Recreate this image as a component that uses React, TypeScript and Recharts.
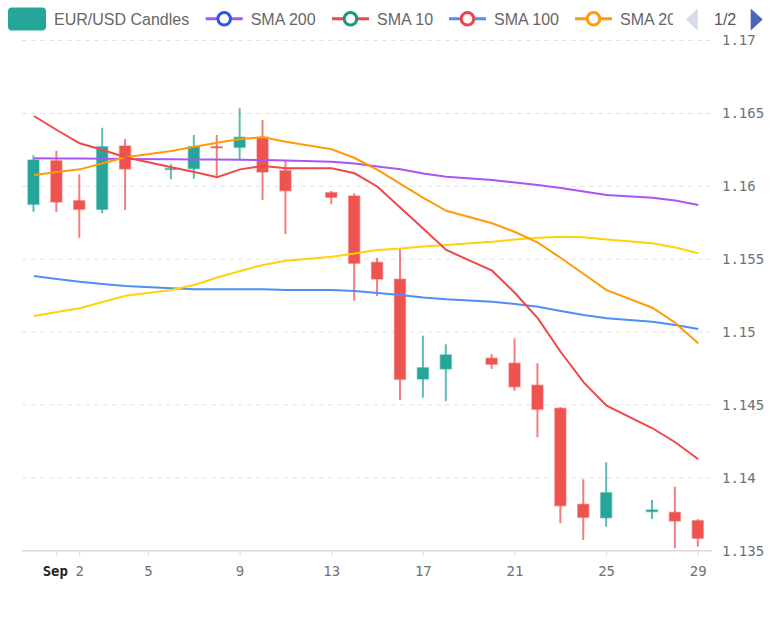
import React from 'react';
import { ComposedChart, Bar, Line, XAxis, YAxis, CartesianGrid } from 'recharts';

// Day index: 0 = Aug 31, 1 = Sep 1, ... 29 = Sep 29
const days = [0, 1, 2, 3, 4, 6, 7, 8, 9, 10, 11, 13, 14, 15, 16, 17, 18, 20, 21, 22, 23, 24, 25, 27, 28, 29];
const opens = [1.15876, 1.16175, 1.15901, 1.15842, 1.16276, 1.16118, 1.16121, 1.16271, 1.16267, 1.16336, 1.16107, 1.15956, 1.15933, 1.15478, 1.15362, 1.14678, 1.14747, 1.1482, 1.14786, 1.14635, 1.14477, 1.13818, 1.13726, 1.13768, 1.13763, 1.13706];
const highs = [1.16213, 1.16244, 1.16082, 1.16402, 1.16324, 1.16151, 1.16352, 1.16352, 1.16535, 1.16455, 1.16173, 1.15968, 1.15952, 1.1551, 1.15568, 1.14975, 1.14916, 1.14849, 1.14957, 1.14786, 1.14484, 1.1399, 1.14106, 1.13848, 1.13939, 1.13715];
const lows = [1.15826, 1.15824, 1.15647, 1.15815, 1.15837, 1.16048, 1.16052, 1.16062, 1.16187, 1.15906, 1.15673, 1.15876, 1.15215, 1.15247, 1.14534, 1.1455, 1.14527, 1.14747, 1.14596, 1.14278, 1.13688, 1.13573, 1.13665, 1.13718, 1.13516, 1.13527];
const closes = [1.1618, 1.15892, 1.15842, 1.16271, 1.16119, 1.16122, 1.16271, 1.16264, 1.16336, 1.16098, 1.1597, 1.15924, 1.15472, 1.15364, 1.14676, 1.14755, 1.14843, 1.14779, 1.14625, 1.1447, 1.13809, 1.13729, 1.13898, 1.13779, 1.13704, 1.13585];

const sma10 = [1.16482, 1.16386, 1.16295, 1.16249, 1.16199, 1.16131, 1.16098, 1.16062, 1.16116, 1.16139, 1.16123, 1.16123, 1.16089, 1.15997, 1.15852, 1.15708, 1.15563, 1.15421, 1.15268, 1.15094, 1.14863, 1.14655, 1.14495, 1.1434, 1.14244, 1.14127];
const sma20 = [1.16077, 1.16098, 1.16116, 1.16158, 1.16199, 1.16242, 1.16271, 1.16299, 1.16324, 1.16336, 1.16306, 1.16254, 1.16194, 1.16112, 1.16016, 1.1592, 1.15832, 1.15746, 1.15686, 1.15613, 1.15508, 1.15398, 1.15288, 1.15167, 1.15062, 1.14923];
const sma50 = [1.1511, 1.15138, 1.15163, 1.15206, 1.15249, 1.15288, 1.15323, 1.15374, 1.15419, 1.1546, 1.15489, 1.15517, 1.15539, 1.15563, 1.15573, 1.15587, 1.15597, 1.1562, 1.15635, 1.15647, 1.15654, 1.1565, 1.15635, 1.15609, 1.1558, 1.1554];
const sma100 = [1.15385, 1.15364, 1.15345, 1.1533, 1.15316, 1.153, 1.15293, 1.15293, 1.15293, 1.15293, 1.15288, 1.15288, 1.15282, 1.15268, 1.15254, 1.15237, 1.15225, 1.15208, 1.15192, 1.15174, 1.15144, 1.15117, 1.15094, 1.15071, 1.15048, 1.15021];
const sma200 = [1.16192, 1.16191, 1.1619, 1.16189, 1.16187, 1.16185, 1.16184, 1.16183, 1.16182, 1.1618, 1.16177, 1.16169, 1.16156, 1.16136, 1.16117, 1.16088, 1.16066, 1.16043, 1.16026, 1.16009, 1.15988, 1.15964, 1.1594, 1.15922, 1.15902, 1.15872];

const xTicks = [1, 2, 5, 9, 13, 17, 21, 25, 29];
const xTickLabels = ['Sep', '2', '5', '9', '13', '17', '21', '25', '29'];
const yTicks = [1.135, 1.14, 1.145, 1.15, 1.155, 1.16, 1.165, 1.17];

const UP = '#26a69a';
const DOWN = '#ef5350';

const rows = days.map((d, i) => ({
  d,
  open: opens[i],
  high: highs[i],
  low: lows[i],
  close: closes[i],
  sma10: sma10[i],
  sma20: sma20[i],
  sma50: sma50[i],
  sma100: sma100[i],
  sma200: sma200[i],
}));

const Candle = (props: any) => {
  const { x, y, width, height, payload } = props;
  if (!payload || x == null || y == null) return null;
  const { open, close, high, low } = payload;
  const top = Math.min(y, y + height);
  const h = Math.abs(height);
  const ppu = high - low > 0 ? h / (high - low) : 0;
  const yOf = (v: number) => top + (high - v) * ppu;
  const cx = x + width / 2;
  const up = close >= open;
  const color = up ? UP : DOWN;
  const bTop = yOf(Math.max(open, close));
  const bBot = yOf(Math.min(open, close));
  const bw = 11;
  const bh = Math.max(bBot - bTop, 1);
  return (
    <g>
      <line x1={cx} x2={cx} y1={top} y2={top + h} stroke={color} strokeOpacity={0.75} strokeWidth={2} />
      <rect x={cx - bw / 2} y={bTop} width={bw} height={bh} fill={color} stroke={color} strokeOpacity={0.45} strokeWidth={1.5} />
    </g>
  );
};

const XTick = (props: any) => {
  const { x, y, payload } = props;
  const v = payload.value;
  const idx = xTicks.indexOf(v);
  const isMonth = v === 1;
  return (
    <text
      x={isMonth ? x - 1.5 : x}
      y={y}
      dy="0.71em"
      textAnchor="middle"
      fontFamily="DejaVu Sans Mono"
      fontSize={14}
      fontWeight={isMonth ? 700 : 400}
      fill={isMonth ? '#222' : '#6e7079'}
    >
      {idx >= 0 ? xTickLabels[idx] : ''}
    </text>
  );
};

const legendFont = { fontFamily: 'Liberation Sans, Arial, sans-serif', fontSize: 16, fill: '#666' };

const LegendItem = ({ x0, line, circle, label, textX }: any) => (
  <g>
    <line x1={x0} x2={x0 + 37} y1={18.8} y2={18.8} stroke={line} strokeWidth={3} />
    <circle cx={x0 + 18.5} cy={18.8} r={6.3} fill="#fff" stroke={circle} strokeWidth={3} />
    <text x={textX} y={24.6} {...legendFont}>{label}</text>
  </g>
);

export default function App() {
  return (
    <div style={{ position: 'absolute', left: 0, top: 0, width: 770, height: 634, background: '#fff' }}>
      <ComposedChart
        width={770}
        height={634}
        data={rows}
        margin={{ top: 40.5, right: 0, bottom: 53.3, left: 22 }}
      >
        <CartesianGrid horizontal vertical={false} stroke="#e3e3e3" strokeDasharray="5 4" />
        <XAxis
          dataKey="d"
          type="number"
          domain={[-0.52, 29.6]}
          allowDataOverflow
          ticks={xTicks}
          interval={0}
          height={30}
          tickSize={5}
          tickMargin={10}
          axisLine={{ stroke: '#d9d9d9', strokeWidth: 1.5 }}
          tickLine={{ stroke: '#d9d9d9' }}
          tick={<XTick />}
        />
        <YAxis
          orientation="right"
          type="number"
          domain={[1.135, 1.17]}
          allowDataOverflow
          ticks={yTicks}
          interval={0}
          width={58}
          tickSize={0}
          tickMargin={10}
          axisLine={false}
          tickLine={false}
          tickFormatter={(v: number) => String(v)}
          tick={{ fill: '#6e7079', fontSize: 14, fontFamily: 'DejaVu Sans Mono', textAnchor: 'start' }}
        />
        <Bar
          dataKey={(r: any) => [r.low, r.high]}
          barSize={12}
          shape={<Candle />}
          isAnimationActive={false}
        />
        <Line type="linear" dataKey="sma200" stroke="#a855f7" strokeWidth={2} dot={false} isAnimationActive={false} />
        <Line type="linear" dataKey="sma100" stroke="#4d8ef8" strokeWidth={2} dot={false} isAnimationActive={false} />
        <Line type="linear" dataKey="sma50" stroke="#ffd20a" strokeWidth={2} dot={false} isAnimationActive={false} />
        <Line type="linear" dataKey="sma20" stroke="#ff9a0a" strokeWidth={2} dot={false} isAnimationActive={false} />
        <Line type="linear" dataKey="sma10" stroke="#f0474a" strokeWidth={2} dot={false} isAnimationActive={false} />
      </ComposedChart>
      <svg width={770} height={36} style={{ position: 'absolute', left: 0, top: 0, pointerEvents: 'none' }}>
        <defs>
          <clipPath id="lastClip">
            <rect x={0} y={0} width={673} height={36} />
          </clipPath>
        </defs>
        <rect x={8} y={7.5} width={38} height={23} rx={4} fill={UP} />
        <text x={54} y={24.6} {...legendFont}>EUR/USD Candles</text>
        <LegendItem x0={205.7} line="#a855f7" circle="#2f54eb" label="SMA 200" textX={250.7} />
        <LegendItem x0={332} line="#f0474a" circle="#12997a" label="SMA 10" textX={377} />
        <LegendItem x0={449} line="#4d8ef8" circle="#f0424a" label="SMA 100" textX={494} />
        <g clipPath="url(#lastClip)">
          <LegendItem x0={575} line="#ff9a0a" circle="#ff9a0a" label="SMA 20" textX={620} />
        </g>
        <polygon points="697.7,8.5 686,19.5 697.7,30.5" fill="#d5dbeb" />
        <text x={714} y={24.6} {...legendFont} fill="#555">1/2</text>
        <polygon points="750.7,8.5 762.7,19.5 750.7,30.5" fill="#4b67b3" />
      </svg>
    </div>
  );
}
